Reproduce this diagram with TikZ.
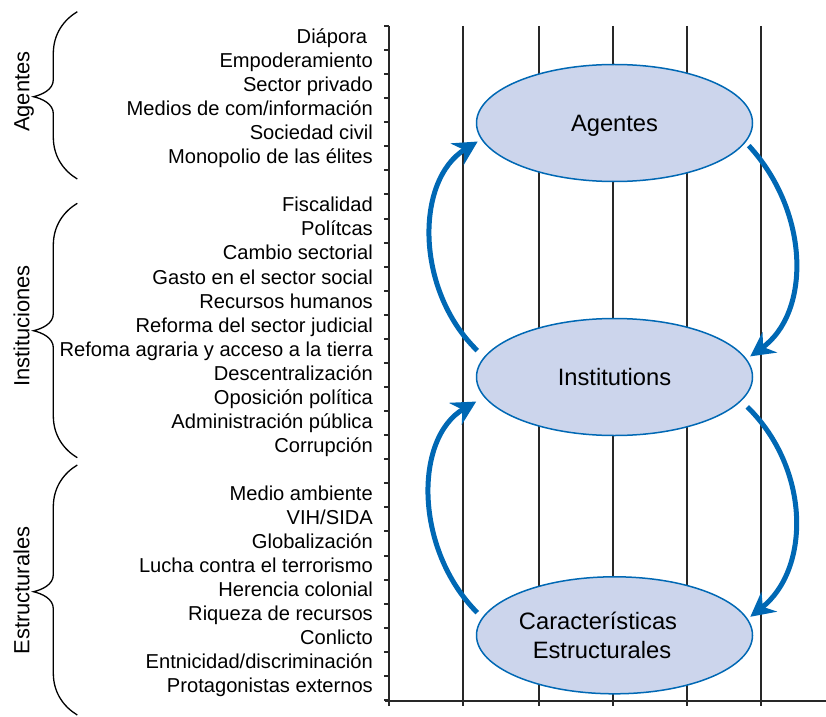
\documentclass[tikz,border=0pt]{standalone}
\usepackage{fontspec}
\setmainfont{Liberation Sans}
\usetikzlibrary{shapes.geometric,arrows.meta}
\definecolor{stagefill}{RGB}{204,213,236}
\definecolor{stageblue}{RGB}{0,104,180}
\definecolor{gridgray}{RGB}{40,40,40}
\tikzset{
	factor/.style={anchor=base east,inner sep=0pt,font=\fontsize{20.2}{24}\selectfont},
	groupname/.style={rotate=90,anchor=base,inner sep=0pt,font=\fontsize{22}{26}\selectfont},
	stage/.style={ellipse,draw=stageblue,line width=1.5bp,fill=stagefill,minimum width=276bp,
		minimum height=117bp,inner sep=0pt,text depth=0pt,align=center,font=\fontsize{23.8}{28.3}\selectfont},
	feedback/.style={stageblue,line width=5bp,-{Stealth[length=24bp,width=25bp,inset=8bp]}},
	gridl/.style={gridgray,line width=1.4bp},
	axisl/.style={gridgray,line width=2bp},
	bracel/.style={line width=1.3bp}
}
\begin{document}
\begin{tikzpicture}[x=1bp,y=-1bp]
					\useasboundingbox (0,0) rectangle (826,717);
					\foreach \x in {463,539,613,687,761}
					\draw[gridl] (\x,26)--(\x,706);
					\foreach \k in {0,...,28}
					\draw[axisl] (384,26+24.07*\k)--(389,26+24.07*\k);
					\draw[axisl] (389,26)--(389,706) (385,700.5)--(826,700.5);
					\foreach \k/\texn in {0/{Diápora\kern5.6bp},1/Empoderamiento,
						2/Sector privado,3/{Medios de com/información},
						4/Sociedad civil,5/Monopolio de las élites,
						7/Fiscalidad,8/Polítcas,9/Cambio sectorial,
						10/Gasto en el sector social,11/Recursos humanos,
						12/Reforma del sector judicial,
						13/Refoma agraria y acceso a la tierra,
						14/Descentralización,15/Oposición política,
						16/Administración pública,17/Corrupción,
						19/Medio ambiente,20/{VIH/SIDA},21/Globalización,
						22/Lucha contra el terrorismo,23/Herencia colonial,
						24/Riqueza de recursos,25/Conlicto,
						26/{Entnicidad/discriminación},27/Protagonistas externos}
					\path (373,43.5+24.05*\k) node[factor](f\k){\texn};
					\foreach \ya/\ym/\yb in {11.7/96.7/179,203.3/330.7/457.7,465/591.7/715}
					\draw[bracel] (77.3,\ya) .. controls (64,\ya+8) and (53.3,\ya+22) .. (53.3,\ya+42)
					--(53.3,\ym-17) .. controls (53.3,\ym-7) and (42,\ym-2) .. (33.5,\ym)
					.. controls (42,\ym+2) and (53.3,\ym+7) .. (53.3,\ym+17)
					--(53.3,\yb-42) .. controls (53.3,\yb-22) and (64,\yb-8) .. (77.3,\yb);
					\node[groupname](gag) at (29.3,91.7){Agentes};
					\node[groupname](ginst) at (29.3,326){Instituciones};
					\node[groupname](gest) at (29.3,590.5){Estructurales};
					\node[stage](ag) at (614.5,123){Agentes};
					\node[stage](inst) at (614.5,377){Institutions};
					\node[stage](est) at (614.5,635.3){Características\hspace*{33bp}\\Estructurales\hspace*{25bp}};
					\draw[feedback] ([xshift=-13bp]inst.168) .. controls (415,290) and (415,180) .. ([xshift=-5bp]ag.188);
					\draw[feedback] ([xshift=-9bp]est.170) .. controls (414,549) and (414,438) .. ([xshift=-12bp]inst.191);
					\draw[feedback] ([xshift=6bp]ag.350) .. controls (810.5,213) and (810.5,313) .. ([xshift=5.6bp]inst.9);
					\draw[feedback] ([xshift=13bp]inst.346) .. controls (810.5,469) and (810.5,569) .. ([xshift=4bp]est.8);
					\end{tikzpicture}
\end{document}
